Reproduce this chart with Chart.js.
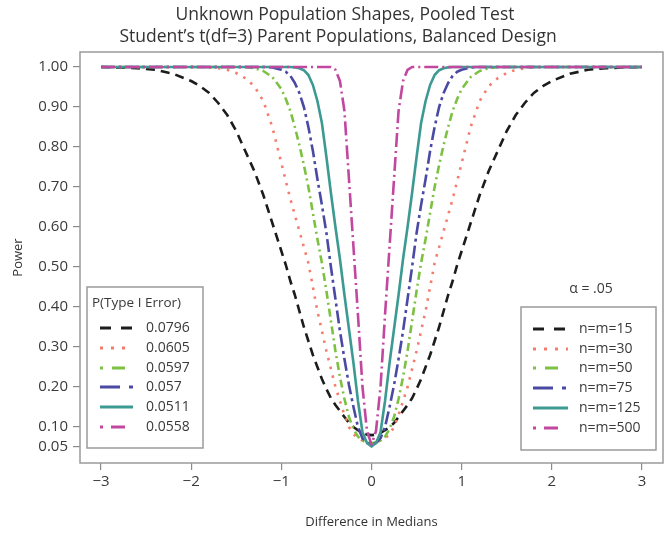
<!DOCTYPE html>
<html><head><meta charset="utf-8">
<script src="https://cdn.jsdelivr.net/npm/chart.js@4/dist/chart.umd.min.js"></script>
<style>html,body{margin:0;padding:0;background:#fff}#wrap{width:666px;height:533px}</style>
</head><body><div id="wrap"><canvas id="c" width="666" height="533"></canvas></div>
<script>
const titleLines = ['Unknown Population Shapes, Pooled Test', "Student\u2019s t(df=3) Parent Populations, Balanced Design"];
const xTitle = 'Difference in Medians';
const yTitle = 'Power';
const legendTitle = 'P(Type I Error)';
const alphaLabel = '\u03B1 = .05';
const seriesLabels = ['n=m=15', 'n=m=30', 'n=m=50', 'n=m=75', 'n=m=125', 'n=m=500'];
const typeIErrors = ['0.0796', '0.0605', '0.0597', '0.057', '0.0511', '0.0558'];
const xTicks = [-3, -2, -1, 0, 1, 2, 3];
const yTicks = [0.05, 0.10, 0.20, 0.30, 0.40, 0.50, 0.60, 0.70, 0.80, 0.90, 1.00];

const diffs = [-3, -2.8, -2.6, -2.4, -2.2,
  -2, -1.9, -1.8, -1.7, -1.6, -1.5, -1.4, -1.3, -1.2, -1.1,
  -1, -0.95, -0.9, -0.85, -0.8, -0.75, -0.7, -0.65, -0.6, -0.55, -0.5, -0.45, -0.4, -0.35, -0.3, -0.25, -0.2, -0.15, -0.1, -0.05,
  0,
  0.05, 0.1, 0.15, 0.2, 0.25, 0.3, 0.35, 0.4, 0.45, 0.5, 0.55, 0.6, 0.65, 0.7, 0.75, 0.8, 0.85, 0.9, 0.95, 1,
  1.1, 1.2, 1.3, 1.4, 1.5, 1.6, 1.7, 1.8, 1.9, 2,
  2.2, 2.4, 2.6, 2.8, 3];

const power15 = [1.0, 0.999, 0.997, 0.993, 0.983,
  0.965, 0.952, 0.935, 0.91, 0.88, 0.84, 0.79, 0.74, 0.68, 0.61,
  0.54, 0.505, 0.465, 0.43, 0.39, 0.35, 0.315, 0.28, 0.25, 0.22, 0.195, 0.172, 0.155, 0.14, 0.125, 0.11, 0.10, 0.092, 0.085, 0.081,
  0.0796,
  0.081, 0.085, 0.092, 0.10, 0.11, 0.125, 0.14, 0.155, 0.172, 0.195, 0.22, 0.25, 0.28, 0.315, 0.35, 0.39, 0.43, 0.465, 0.505, 0.54,
  0.61, 0.68, 0.74, 0.79, 0.84, 0.88, 0.91, 0.935, 0.952, 0.965,
  0.983, 0.993, 0.997, 0.999, 1.0];

const power30 = [1, 1, 1, 1, 1,
  1, 1, 0.999, 0.997, 0.993, 0.985, 0.972, 0.952, 0.915, 0.85,
  0.76, 0.715, 0.67, 0.63, 0.59, 0.55, 0.51, 0.45, 0.39, 0.34, 0.29, 0.245, 0.20, 0.165, 0.13, 0.10, 0.082, 0.072, 0.066, 0.062,
  0.0605,
  0.062, 0.066, 0.072, 0.082, 0.10, 0.13, 0.165, 0.20, 0.245, 0.29, 0.34, 0.39, 0.45, 0.51, 0.55, 0.59, 0.63, 0.67, 0.715, 0.76,
  0.85, 0.915, 0.952, 0.972, 0.985, 0.993, 0.997, 0.999, 1, 1,
  1, 1, 1, 1, 1];

const power50 = [1, 1, 1, 1, 1,
  1, 1, 1, 1, 1, 1, 1, 0.997, 0.99, 0.975,
  0.945, 0.92, 0.89, 0.85, 0.805, 0.755, 0.70, 0.635, 0.57, 0.51, 0.44, 0.365, 0.29, 0.225, 0.17, 0.125, 0.095, 0.076, 0.066, 0.061,
  0.0597,
  0.061, 0.066, 0.076, 0.095, 0.125, 0.17, 0.225, 0.29, 0.365, 0.44, 0.51, 0.57, 0.635, 0.70, 0.755, 0.805, 0.85, 0.89, 0.92, 0.945,
  0.975, 0.99, 0.997, 1, 1, 1, 1, 1, 1, 1,
  1, 1, 1, 1, 1];

const power75 = [1, 1, 1, 1, 1,
  1, 1, 1, 1, 1, 1, 1, 1, 1, 0.999,
  0.993, 0.988, 0.978, 0.96, 0.935, 0.90, 0.85, 0.79, 0.72, 0.655, 0.585, 0.50, 0.42, 0.34, 0.27, 0.205, 0.15, 0.10, 0.072, 0.06,
  0.057,
  0.06, 0.072, 0.10, 0.15, 0.205, 0.27, 0.34, 0.42, 0.50, 0.585, 0.655, 0.72, 0.79, 0.85, 0.90, 0.935, 0.96, 0.978, 0.988, 0.993,
  0.999, 1, 1, 1, 1, 1, 1, 1, 1, 1,
  1, 1, 1, 1, 1];

const power125 = [1, 1, 1, 1, 1,
  1, 1, 1, 1, 1, 1, 1, 1, 1, 1,
  1, 1, 1, 0.999, 0.997, 0.992, 0.98, 0.955, 0.915, 0.86, 0.775, 0.685, 0.60, 0.52, 0.43, 0.345, 0.26, 0.165, 0.087, 0.06,
  0.0511,
  0.06, 0.087, 0.165, 0.26, 0.345, 0.43, 0.52, 0.60, 0.685, 0.775, 0.86, 0.915, 0.955, 0.98, 0.992, 0.997, 0.999, 1, 1, 1,
  1, 1, 1, 1, 1, 1, 1, 1, 1, 1,
  1, 1, 1, 1, 1];

const power500 = [1, 1, 1, 1, 1,
  1, 1, 1, 1, 1, 1, 1, 1, 1, 1,
  1, 1, 1, 1, 1, 1, 1, 1, 1, 1, 1, 1, 0.993, 0.965, 0.89, 0.72, 0.55, 0.38, 0.20, 0.09,
  0.0558,
  0.09, 0.20, 0.38, 0.55, 0.72, 0.89, 0.965, 0.993, 1, 1, 1, 1, 1, 1, 1, 1, 1, 1, 1, 1,
  1, 1, 1, 1, 1, 1, 1, 1, 1, 1,
  1, 1, 1, 1, 1];

const seriesValues = [power15, power30, power50, power75, power125, power500];
const colors = ['#1c1c1c', '#f47c6c', '#7cc142', '#4a49a3', '#3c9a92', '#c2479f'];
const dashes = [[9, 6], [2.5, 6.5], [8, 4, 2, 4], [13, 4, 3, 4], [], [14, 4, 2, 4]];
const legendDashes = [[11, 10], [3, 8], [3, 9, 13, 30], [20, 9, 4, 30], [], [3, 8, 14, 30]];
const FONT = '"Open Sans", "Noto Sans", sans-serif';

const datasets = seriesValues.map((vals, i) => ({
  label: seriesLabels[i],
  data: diffs.map((d, j) => ({x: d, y: vals[j]})),
  borderColor: colors[i],
  borderWidth: 2.6,
  borderDash: dashes[i],
  borderCapStyle: 'butt',
  borderJoinStyle: 'round',
  pointRadius: 0,
  fill: false,
  tension: 0,
  order: 6 - i
}));

function drawLegendBox(ctx, x, y, w, h) {
  ctx.save();
  ctx.fillStyle = '#fff';
  ctx.fillRect(x, y, w, h);
  ctx.strokeStyle = '#9a9a9a';
  ctx.lineWidth = 1.5;
  ctx.strokeRect(x, y, w, h);
  ctx.restore();
}
function drawEntries(ctx, x0, x1, tx, ys, labels) {
  for (let i = 0; i < labels.length; i++) {
    ctx.save();
    ctx.strokeStyle = colors[i];
    ctx.lineWidth = 3;
    ctx.lineCap = 'butt';
    ctx.setLineDash(legendDashes[i]);
    ctx.beginPath();
    ctx.moveTo(x0, ys[i]);
    ctx.lineTo(x1, ys[i]);
    ctx.stroke();
    ctx.restore();
    ctx.fillStyle = '#3a3a3a';
    ctx.font = '14px ' + FONT;
    ctx.textAlign = 'left';
    ctx.textBaseline = 'middle';
    ctx.fillText(labels[i], tx, ys[i]);
  }
}

const decor = {
  id: 'decor',
  afterDraw(chart) {
    const ctx = chart.ctx;
    const a = chart.chartArea;
    ctx.save();
    ctx.strokeStyle = '#9a9a9a';
    ctx.lineWidth = 1.5;
    ctx.strokeRect(a.left, a.top, a.right - a.left, a.bottom - a.top);
    ctx.fillStyle = '#333';
    ctx.font = '17.5px ' + FONT;
    ctx.textAlign = 'center';
    ctx.textBaseline = 'middle';
    ctx.fillText(titleLines[0], 345, 15);
    ctx.fillText(titleLines[1], 338, 37);

    const ysL = [328, 348, 368, 387, 407, 427];
    drawLegendBox(ctx, 87, 287, 116, 161);
    ctx.fillStyle = '#3a3a3a';
    ctx.font = '13.5px ' + FONT;
    ctx.textAlign = 'left';
    ctx.textBaseline = 'middle';
    ctx.fillText(legendTitle, 92, 303);
    drawEntries(ctx, 100, 133, 146, ysL, typeIErrors);

    ctx.fillStyle = '#3a3a3a';
    ctx.font = '14px ' + FONT;
    ctx.textAlign = 'center';
    ctx.fillText(alphaLabel, 591, 289);
    const ysR = [329, 349, 368, 388, 408, 428];
    drawLegendBox(ctx, 521, 307, 135, 143);
    drawEntries(ctx, 533, 568, 579, ysR, seriesLabels);
    ctx.restore();
  }
};

new Chart(document.getElementById('c'), {
  type: 'line',
  data: {datasets},
  plugins: [decor],
  options: {
    responsive: false,
    animation: false,
    devicePixelRatio: 1,
    layout: {padding: {top: 52, right: 3, left: 0, bottom: 0}},
    plugins: {legend: {display: false}, title: {display: false}, tooltip: {enabled: false}},
    scales: {
      x: {
        type: 'linear', min: -3.233, max: 3.233,
        afterBuildTicks: s => { s.ticks = xTicks.map(v => ({value: v})); },
        afterFit: s => { s.height = 70; },
        grid: {drawOnChartArea: false, drawTicks: true, tickLength: 7, color: '#8a8a8a', lineWidth: 1.2},
        border: {display: false},
        ticks: {padding: 3, color: '#3a3a3a', font: {family: FONT, size: 15}, maxRotation: 0, autoSkip: false,
          callback: v => v < 0 ? '\u2212' + Math.abs(v) : String(v)},
        title: {display: true, text: xTitle, color: '#333', font: {family: FONT, size: 13}, padding: {top: 3, bottom: 3}}
      },
      y: {
        type: 'linear', min: 0.01, max: 1.0375,
        afterBuildTicks: s => { s.ticks = yTicks.map(v => ({value: v})); },
        afterFit: s => { s.width = 80; },
        grid: {drawOnChartArea: false, drawTicks: true, tickLength: 7, color: '#8a8a8a', lineWidth: 1.2},
        border: {display: false},
        ticks: {padding: 5, color: '#3a3a3a', font: {family: FONT, size: 15}, autoSkip: false,
          callback: v => Number(v).toFixed(2)},
        title: {display: true, text: yTitle, color: '#333', font: {family: FONT, size: 13}, padding: {top: 10, bottom: 10}}
      }
    }
  }
});
</script>
</body></html>
